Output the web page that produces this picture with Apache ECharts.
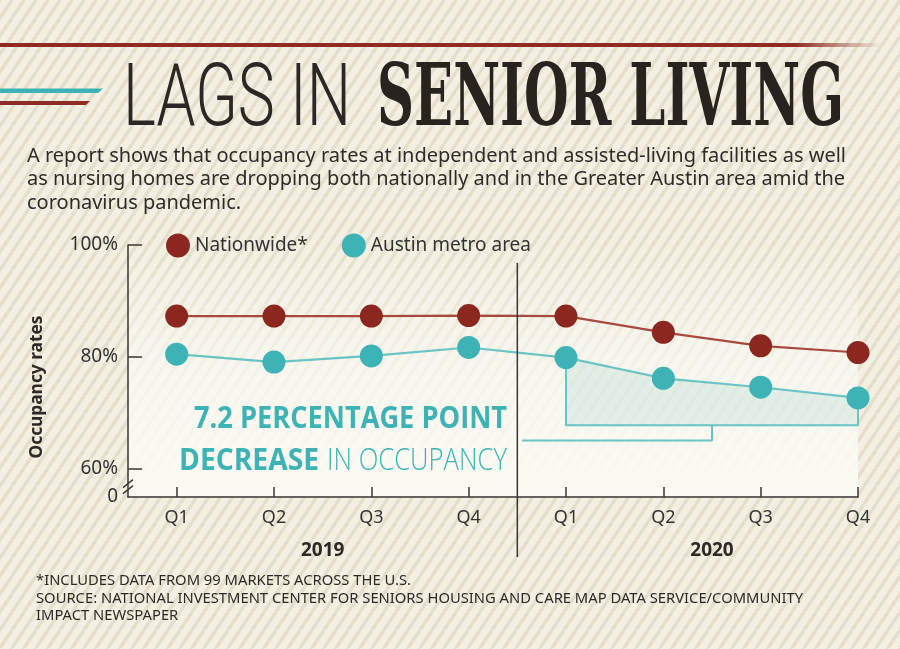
<!DOCTYPE html>
<html>
<head>
<meta charset="utf-8">
<title>Lags in senior living</title>
<script src="https://cdn.jsdelivr.net/npm/echarts@6.0.0/dist/echarts.min.js"></script>
<style>
    html, body { margin: 0; padding: 0; }
    #main { width: 900px; height: 649px; }
</style>
</head>
<body>
<div id="main"></div>
<script>
// ---- data ----
var quarters = ['Q1', 'Q2', 'Q3', 'Q4', 'Q1', 'Q2', 'Q3', 'Q4'];
var years = ['2019', '2020'];
var nationwide = [87.3, 87.3, 87.3, 87.4, 87.3, 84.4, 82.0, 80.8];
var austin = [80.5, 79.1, 80.2, 81.7, 79.9, 76.2, 74.6, 72.7];
var yTicks = [60, 80, 100];
var axisFloor = 55;      // drawn as "0" below the axis break
var decreaseStart = 4;   // Q1 2020
var decreaseBase = 67.8;
var bracketLevel = 65.1;

var chart = {
    red: '#8c2720',
    redLine: '#a8493f',
    teal: '#3db3b6',
    tealLine: '#69c4c3',
    axis: '#3a3633',
    sans: '"Noto Sans", "Open Sans", sans-serif'
};

chart.ctx = document.createElement('canvas').getContext('2d');

/**
 * scale factor that squeezes a text to a wanted width
 */
chart.fit = function (text, font, width) {
    chart.ctx.font = font;
    return width / chart.ctx.measureText(text).width;
};

chart.pairs = function (values, from) {
    var out = [];
    for (var i = from || 0; i < values.length; i++) {
        out.push([i, values[i]]);
    }
    return out;
};

chart.text = function (text, font, color, x, y, width, align) {
    return {
        type: 'text', x: x, y: y, z: 10, silent: true,
        scaleX: width ? chart.fit(text, font, width) : 1,
        style: {
            text: text, font: font, fill: color,
            align: align || 'left', textAlign: align || 'left',
            verticalAlign: 'middle', textVerticalAlign: 'middle'
        }
    };
};

/**
 * diagonal stripes for the paper background
 */
chart.stripes = function () {
    var w = 12, h = 18;
    var c = document.createElement('canvas');
    c.width = w;
    c.height = h;
    var g = c.getContext('2d');
    g.fillStyle = '#f3f0e3';
    g.fillRect(0, 0, w, h);
    g.strokeStyle = '#e4dfca';
    g.lineWidth = 3.5;
    [-w, 0, w].forEach(function (dx) {
        g.beginPath();
        g.moveTo(dx, h);
        g.lineTo(dx + w, 0);
        g.stroke();
    });
    return c;
};

/**
 * short inward ticks on both axes, as segments in data space
 */
chart.ticks = function () {
    var segs = [];
    yTicks.forEach(function (v) {
        segs.push([{ coord: [-0.5, v] }, { coord: [-0.355, v] }]);
    });
    quarters.forEach(function (q, i) {
        segs.push([{ coord: [i, axisFloor] }, { coord: [i, axisFloor + 1.8] }]);
    });
    return segs;
};

chart.option = function () {
    var labelsAt = quarters.map(function (q, i) { return i; });
    var axisStyle = { color: chart.axis, width: 1.5 };
    return {
        animation: false,
        backgroundColor: { image: chart.stripes(), repeat: 'repeat' },
        grid: { left: 128, right: 42, top: 245, bottom: 152 },
        legend: {
            left: 166, top: 233.5, padding: 0,
            itemWidth: 24, itemHeight: 24, itemGap: 34,
            icon: 'circle',
            textStyle: { fontSize: 19, color: '#333', fontFamily: chart.sans },
            data: ['Nationwide*', 'Austin metro area']
        },
        xAxis: {
            type: 'value', min: -0.5, max: quarters.length - 1, z: 4,
            axisLine: { show: true, onZero: false, lineStyle: axisStyle },
            axisTick: { show: false },
            axisLabel: {
                customValues: labelsAt, margin: 12,
                fontSize: 18, color: '#333', fontFamily: chart.sans,
                formatter: function (v) { return quarters[v]; }
            },
            splitLine: { show: false }
        },
        yAxis: {
            type: 'value', min: axisFloor, max: 100, z: 4,
            axisLine: { show: true, onZero: false, lineStyle: axisStyle },
            axisTick: { show: false },
            axisLabel: {
                customValues: [axisFloor].concat(yTicks), margin: 10,
                fontSize: 19, color: '#333', fontFamily: chart.sans,
                formatter: function (v) { return v === axisFloor ? '0' : v + '%'; }
            },
            splitLine: { show: false }
        },
        series: [
            {
                name: 'paper', type: 'line', data: [], z: 1, silent: true,
                markArea: {
                    silent: true,
                    itemStyle: {
                        color: new echarts.graphic.LinearGradient(0, 0, 0, 1, [
                            { offset: 0, color: 'rgba(251,250,244,0)' },
                            { offset: 0.5, color: 'rgba(251,250,244,0.72)' },
                            { offset: 1, color: 'rgba(251,250,244,0.97)' }
                        ])
                    },
                    data: [[{ coord: [-0.5, 100] }, { coord: [quarters.length - 1, axisFloor] }]]
                }
            },
            {
                name: 'ticks', type: 'line', data: [], z: 4, silent: true,
                markLine: {
                    silent: true, symbol: ['none', 'none'],
                    label: { show: false },
                    lineStyle: { color: chart.axis, width: 1.5, type: 'solid' },
                    data: chart.ticks()
                }
            },
            {
                name: 'decrease', type: 'line', z: 2, silent: true,
                data: chart.pairs(austin, decreaseStart),
                symbol: 'none',
                lineStyle: { width: 0 },
                areaStyle: { origin: decreaseBase, color: 'rgba(92,188,186,0.22)' }
            },
            {
                name: 'outline', type: 'line', z: 3, silent: true, symbol: 'none',
                data: [
                    [decreaseStart, austin[decreaseStart]],
                    [decreaseStart, decreaseBase],
                    [quarters.length - 1, decreaseBase],
                    [quarters.length - 1, austin[austin.length - 1]]
                ],
                lineStyle: { color: chart.tealLine, width: 2 }
            },
            {
                name: 'bracket', type: 'line', z: 3, silent: true, symbol: 'none',
                data: [[5.5, decreaseBase], [5.5, bracketLevel], [3.55, bracketLevel]],
                lineStyle: { color: chart.tealLine, width: 2 }
            },
            {
                name: 'Nationwide*', type: 'line', z: 5,
                data: chart.pairs(nationwide),
                symbol: 'circle', symbolSize: 23,
                itemStyle: { color: chart.red },
                lineStyle: { color: chart.redLine, width: 2.2 }
            },
            {
                name: 'Austin metro area', type: 'line', z: 5,
                data: chart.pairs(austin),
                symbol: 'circle', symbolSize: 23,
                itemStyle: { color: chart.teal },
                lineStyle: { color: chart.tealLine, width: 2.2 }
            }
        ]
    };
};

/**
 * title, notes and the marks that sit around the plot
 */
chart.decor = function (char) {
    var px = function (x, y) { return char.convertToPixel({ gridIndex: 0 }, [x, y]); };
    var base = px(-0.5, axisFloor);
    var divider = px(3.5, 96.8);
    var brk = px(-0.5, 57.4);
    var sub = '20px ' + chart.sans;
    var note = '15px ' + chart.sans;
    var subLines = [
        'A report shows that occupancy rates at independent and assisted-living facilities as well',
        'as nursing homes are dropping both nationally and in the Greater Austin area amid the',
        'coronavirus pandemic.'
    ];
    var noteLines = [
        '*INCLUDES DATA FROM 99 MARKETS ACROSS THE U.S.',
        'SOURCE: NATIONAL INVESTMENT CENTER FOR SENIORS HOUSING AND CARE MAP DATA SERVICE/COMMUNITY',
        'IMPACT NEWSPAPER'
    ];
    var subScale = chart.fit(subLines[0], sub, 819);
    var noteScale = chart.fit(noteLines[1], note, 767);
    var els = [];

    // red rule with a fading end
    els.push({
        type: 'rect', shape: { x: 0, y: 43, width: 882, height: 4 }, silent: true,
        style: {
            fill: new echarts.graphic.LinearGradient(0, 0, 1, 0, [
                { offset: 0, color: '#8e2b22' },
                { offset: 0.9, color: '#8e2b22' },
                { offset: 1, color: 'rgba(142,43,34,0)' }
            ])
        }
    });
    els.push({ type: 'polygon', silent: true, shape: { points: [[0, 88.5], [103, 88.5], [98, 93], [0, 93]] },
        style: { fill: chart.teal } });
    els.push({ type: 'polygon', silent: true, shape: { points: [[0, 101], [90, 101], [86, 105], [0, 105]] },
        style: { fill: '#8e2b22' } });

    els.push(chart.text('LAGS IN', '300 88px Roboto, Inter, sans-serif', '#2b2725', 123, 103, 228));
    els.push(chart.text('SENIOR LIVING', 'bold 86px "DejaVu Serif", serif', '#29231f', 377, 103, 467));

    subLines.forEach(function (t, i) {
        var e = chart.text(t, sub, '#2f2b28', 27, 156 + i * 23.5);
        e.scaleX = subScale;
        els.push(e);
    });
    noteLines.forEach(function (t, i) {
        var e = chart.text(t, note, '#2d2a26', 36, 581 + i * 17.5);
        e.scaleX = noteScale;
        els.push(e);
    });

    // axis name
    var yName = chart.text('Occupancy rates', 'bold 17px ' + chart.sans, '#2d2926', 37, 387, 143, 'center');
    yName.rotation = Math.PI / 2;
    els.push(yName);

    // axis break marks
    [0, 6].forEach(function (dy) {
        els.push({ type: 'line', silent: true, z: 10,
            shape: { x1: brk[0] - 5, y1: brk[1] + 4 + dy, x2: brk[0] + 5, y2: brk[1] - 4 + dy },
            style: { stroke: chart.axis, lineWidth: 1.5 } });
    });

    // year divider and year labels
    els.push({ type: 'line', silent: true, z: 10,
        shape: { x1: divider[0], y1: divider[1], x2: divider[0], y2: base[1] + 60 },
        style: { stroke: chart.axis, lineWidth: 1.5 } });
    years.forEach(function (y, i) {
        var p = px(1.5 + i * 4, axisFloor);
        els.push(chart.text(y, 'bold 19px ' + chart.sans, '#2d2926', p[0], p[1] + 54, 0, 'center'));
    });

    // annotation
    var bold = 'bold 31px "Open Sans", sans-serif';
    var light = '300 31px "Open Sans", sans-serif';
    els.push(chart.text('7.2 PERCENTAGE POINT', bold, chart.teal, 194, 419, 313));
    els.push(chart.text('DECREASE', bold, chart.teal, 179, 461, 140));
    els.push(chart.text('IN OCCUPANCY', light, chart.teal, 327, 461, 180));

    char.setOption({ graphic: els });
};

chart.init = function () {
    var char = echarts.init(document.getElementById('main'));
    char.setOption(chart.option());
    chart.decor(char);
};

chart.init();
</script>
</body>
</html>
